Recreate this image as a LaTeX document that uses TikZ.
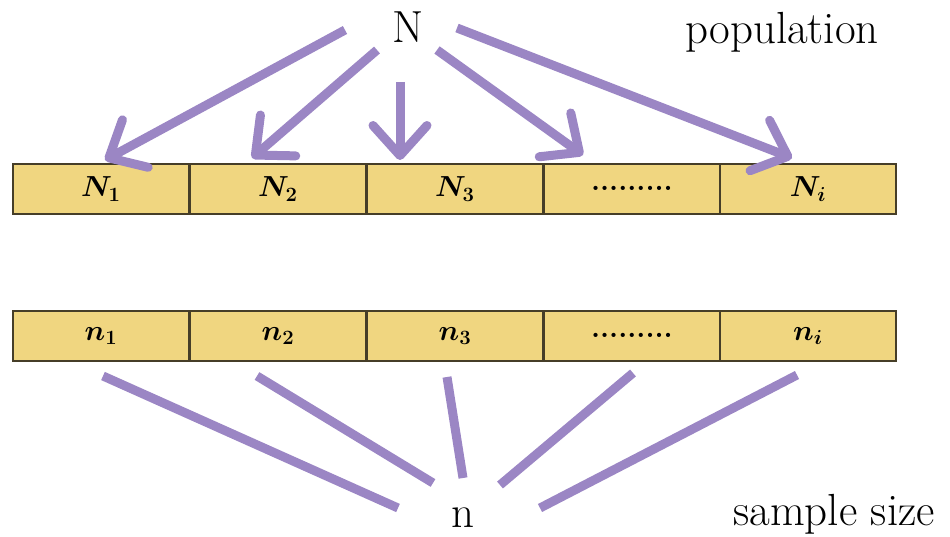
\RequirePackage{fix-cm}
\documentclass[tikz,border=0pt]{standalone}
\usepackage{bm}
\usetikzlibrary{arrows.meta}
\definecolor{lav}{RGB}{155,134,196}
\definecolor{cellfill}{RGB}{240,214,128}
\definecolor{celledge}{RGB}{70,62,40}
\begin{document}
\begin{tikzpicture}[x=1pt,y=-1pt,
  cell/.style={draw=celledge, line width=1.8pt, fill=cellfill, minimum width=176pt, minimum height=50pt, inner sep=0pt, anchor=north west, font=\fontsize{29}{31}\selectfont},
  arr/.style={draw=lav, line width=9pt, line join=round, -{Straight Barb[length=30pt,width=54pt,round]}},
  ln/.style={draw=lav, line width=9pt},
  big/.style={inner sep=0pt, font=\fontsize{45}{48}\selectfont}]
\useasboundingbox (0,0) rectangle (950,537);
% top row
\node[cell] (N1) at (12,163) {$\bm{N_1}$};
\node[cell] (N2) at (189,163) {$\bm{N_2}$};
\node[cell] (N3) at (366,163) {$\bm{N_3}$};
\node[cell] (N4) at (543,163) {\textbf{.........}};
\node[cell] (N5) at (719,163) {$\bm{N_i}$};
% bottom row
\node[cell] (n1) at (12,310) {$\bm{n_1}$};
\node[cell] (n2) at (189,310) {$\bm{n_2}$};
\node[cell] (n3) at (366,310) {$\bm{n_3}$};
\node[cell] (n4) at (543,310) {\textbf{.........}};
\node[cell] (n5) at (719,310) {$\bm{n_i}$};
% labels
\node[big, anchor=base] (Ntop) at (408,43) {N};
\node[big, anchor=base west] (pop) at (685,44) {population};
\node[big, anchor=base] (nbot) at (463,527) {n};
\node[big, anchor=base west] (ss) at (733,525) {sample size};
% arrow end points
\coordinate (a1s) at (345,30);  \coordinate (a1e) at (105,160);
\coordinate (a2s) at (377,50);  \coordinate (a2e) at (252,158);
\coordinate (a3s) at (400,82);  \coordinate (a3e) at (400,160);
\coordinate (a4s) at (437,50);  \coordinate (a4e) at (583,155);
\coordinate (a5s) at (457,28);  \coordinate (a5e) at (792,158);
\draw[arr] (a1s) -- (a1e);
\draw[arr] (a2s) -- (a2e);
\draw[arr] (a3s) -- (a3e);
\draw[arr] (a4s) -- (a4e);
\draw[arr] (a5s) -- (a5e);
% lines to n
\coordinate (b1s) at (103,376); \coordinate (b1e) at (398,508);
\coordinate (b2s) at (257,376); \coordinate (b2e) at (433,483);
\coordinate (b3s) at (447,377); \coordinate (b3e) at (463,478);
\coordinate (b4s) at (633,373); \coordinate (b4e) at (500,485);
\coordinate (b5s) at (797,375); \coordinate (b5e) at (540,508);
\draw[ln] (b1s) -- (b1e);
\draw[ln] (b2s) -- (b2e);
\draw[ln] (b3s) -- (b3e);
\draw[ln] (b4s) -- (b4e);
\draw[ln] (b5s) -- (b5e);
\end{tikzpicture}
\end{document}
